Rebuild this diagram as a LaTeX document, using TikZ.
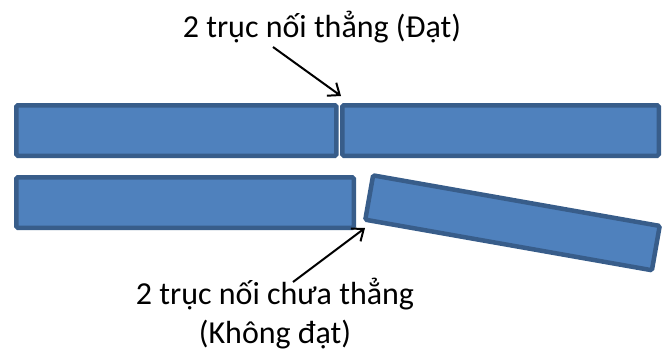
\documentclass[tikz,border=0pt]{standalone}
\usepackage{fontspec}
\setmainfont{Carlito}
\usetikzlibrary{arrows.meta}
\definecolor{barfill}{HTML}{4F81BD}
\definecolor{barline}{HTML}{385D8A}
\tikzset{
  bar/.style={draw=barline, fill=barfill, line width=4.5pt, rounded corners=1.5pt,
    inner sep=0pt, outer sep=0pt, rectangle},
  lbl/.style={font=\fontsize{32}{39}\selectfont, inner sep=0pt, align=center},
  pointer/.style={line width=2pt, -{Straight Barb[length=10pt,width=16pt,line width=2pt]}}
}
\begin{document}
\begin{tikzpicture}[x=1pt,y=-1pt]
\useasboundingbox (0,0) rectangle (668,354);
% top pair
\node[bar, minimum width=320pt, minimum height=50.5pt] (t1) at (176.4,130.5) {};
\node[bar, minimum width=316.5pt, minimum height=50.5pt] (t2) at (500.5,130.5) {};
% bottom pair
\node[bar, minimum width=337.5pt, minimum height=50.5pt] (b1) at (185,202.5) {};
\node[bar, minimum width=291pt, minimum height=45pt, rotate=-10] (b2) at (512.5,222.8) {};
% labels
\node[lbl, anchor=base] (top) at (322,37) {2 trục nối thẳng (Đạt)};
\node[lbl, anchor=base] (bot) at (275,343) {2 trục nối chưa thẳng\\(Không đạt)};
% arrows
\coordinate (tpS) at (273,47);
\coordinate (tpE) at (341,96);
\coordinate (btS) at (293,282);
\coordinate (btE) at (365,228);
\draw[pointer] (tpS) -- (tpE);
\draw[pointer] (btS) -- (btE);
\end{tikzpicture}
\end{document}
